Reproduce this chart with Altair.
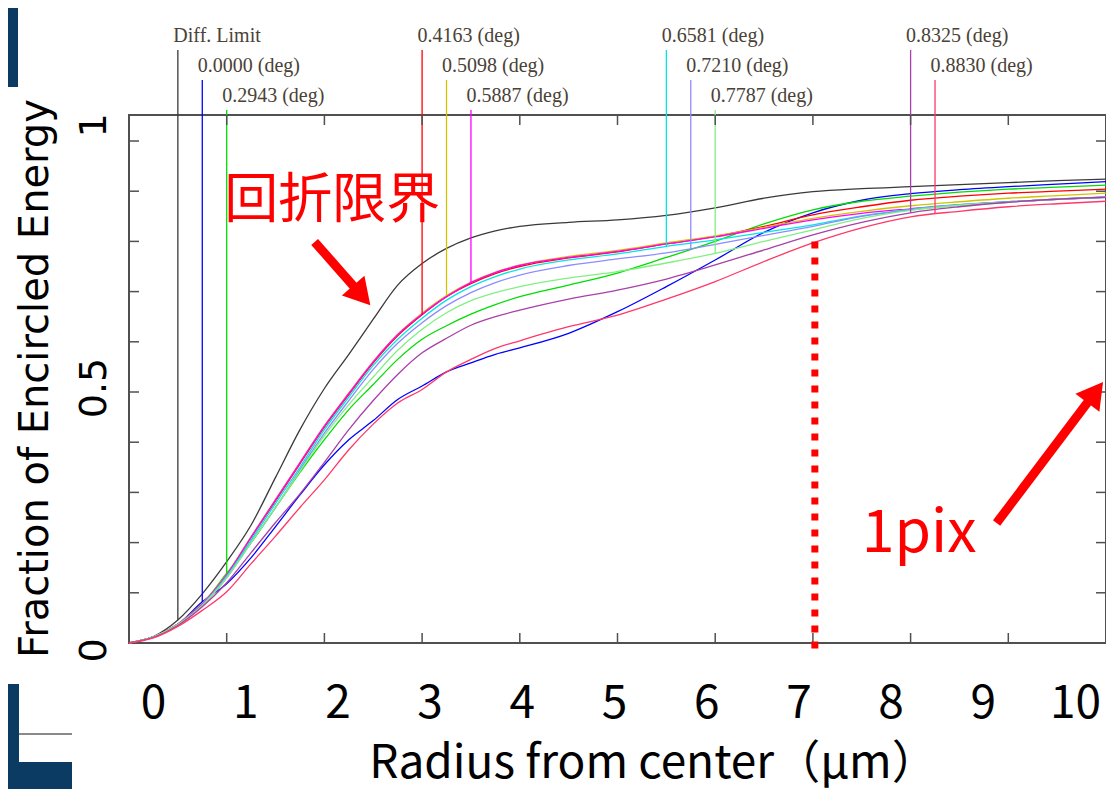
import math
import numpy as np
import pandas as pd
import altair as alt

# ---------------- layout ----------------
W, H = 977, 528          # plot area in px
YMAX = 1.0518            # top of the frame (fraction units)
XMAX = 10.0              # the frame holds 10 grid divisions

# ---------------- data ----------------
# radius along the plot's own grid (10 divisions across the frame)
R = [0, 0.25, 0.5, 0.75, 1.0, 1.25, 1.5, 1.75, 2.0, 2.25, 2.5, 2.75, 3.0, 3.25,
     3.5, 3.75, 4.0, 4.5, 5.0, 5.5, 6.0, 6.5, 7.0, 7.5, 8.0, 8.5, 9.0, 9.5, 10.0]

series_names = ["Diff. Limit", "0.0000 (deg)", "0.2943 (deg)", "0.4163 (deg)",
                "0.5098 (deg)", "0.5887 (deg)", "0.6581 (deg)", "0.7210 (deg)",
                "0.7787 (deg)", "0.8325 (deg)", "0.8830 (deg)"]
series_colors = ["#3a3a3a", "#0000ff", "#00dd00", "#ff0000", "#cfc400", "#ff00ff",
                 "#00e6e6", "#8c8cff", "#80f080", "#a840a8", "#ff3868"]

diff_limit = [0, 0.013, 0.046, 0.098, 0.162, 0.235, 0.330, 0.425, 0.507, 0.575, 0.645, 0.713,
              0.756, 0.786, 0.807, 0.821, 0.830, 0.838, 0.843, 0.852, 0.867, 0.886, 0.899,
              0.905, 0.909, 0.913, 0.917, 0.921, 0.924]
deg_0000 = [0, 0.012, 0.037, 0.082, 0.118, 0.170, 0.232, 0.295, 0.355, 0.405, 0.443, 0.485,
            0.512, 0.540, 0.558, 0.575, 0.588, 0.617, 0.660, 0.710, 0.763, 0.818, 0.857,
            0.882, 0.895, 0.903, 0.909, 0.914, 0.919]
deg_2943 = [0, 0.012, 0.037, 0.077, 0.139, 0.200, 0.270, 0.340, 0.405, 0.465, 0.515, 0.565,
            0.605, 0.632, 0.655, 0.674, 0.690, 0.713, 0.737, 0.768, 0.800, 0.835, 0.863,
            0.880, 0.890, 0.898, 0.904, 0.908, 0.912]
deg_4163 = [0, 0.012, 0.038, 0.078, 0.135, 0.210, 0.283, 0.357, 0.430, 0.495, 0.558, 0.612,
            0.654, 0.690, 0.716, 0.736, 0.750, 0.767, 0.779, 0.795, 0.810, 0.830, 0.853,
            0.869, 0.882, 0.890, 0.896, 0.900, 0.904]
deg_5098 = [0, 0.012, 0.038, 0.079, 0.137, 0.212, 0.286, 0.360, 0.433, 0.498, 0.561, 0.615,
            0.657, 0.692, 0.719, 0.739, 0.753, 0.770, 0.782, 0.797, 0.811, 0.828, 0.846,
            0.860, 0.871, 0.879, 0.886, 0.891, 0.896]
deg_5887 = [0, 0.012, 0.038, 0.078, 0.136, 0.211, 0.285, 0.359, 0.432, 0.497, 0.560, 0.614,
            0.655, 0.690, 0.718, 0.738, 0.752, 0.768, 0.780, 0.795, 0.809, 0.826, 0.843,
            0.856, 0.865, 0.873, 0.879, 0.884, 0.888]
deg_6581 = [0, 0.012, 0.037, 0.076, 0.133, 0.205, 0.278, 0.350, 0.425, 0.490, 0.553, 0.605,
            0.647, 0.683, 0.710, 0.730, 0.745, 0.763, 0.775, 0.790, 0.803, 0.818, 0.833,
            0.851, 0.864, 0.873, 0.879, 0.884, 0.888]
deg_7210 = [0, 0.012, 0.037, 0.075, 0.130, 0.200, 0.270, 0.345, 0.418, 0.483, 0.545, 0.597,
            0.638, 0.672, 0.698, 0.718, 0.733, 0.752, 0.765, 0.777, 0.794, 0.812, 0.830,
            0.850, 0.863, 0.872, 0.878, 0.884, 0.888]
deg_7787 = [0, 0.012, 0.037, 0.075, 0.130, 0.200, 0.270, 0.342, 0.413, 0.475, 0.530, 0.583,
            0.625, 0.658, 0.682, 0.698, 0.710, 0.727, 0.740, 0.757, 0.776, 0.800, 0.823,
            0.846, 0.862, 0.872, 0.878, 0.884, 0.888]
deg_8325 = [0, 0.011, 0.035, 0.072, 0.120, 0.180, 0.240, 0.297, 0.360, 0.425, 0.483, 0.535,
            0.578, 0.607, 0.633, 0.650, 0.663, 0.685, 0.703, 0.725, 0.753, 0.783, 0.813,
            0.838, 0.857, 0.869, 0.878, 0.884, 0.888]
deg_8830 = [0, 0.010, 0.033, 0.065, 0.102, 0.158, 0.213, 0.270, 0.325, 0.385, 0.436, 0.478,
            0.505, 0.540, 0.565, 0.587, 0.602, 0.630, 0.653, 0.685, 0.720, 0.760, 0.797,
            0.827, 0.849, 0.860, 0.869, 0.875, 0.880]
curves = [diff_limit, deg_0000, deg_2943, deg_4163, deg_5098, deg_5887, deg_6581,
          deg_7210, deg_7787, deg_8325, deg_8830]

# where each field's marker line stands, and the label row it belongs to
marker_r = [0.5, 0.75, 1.0, 3.0, 3.25, 3.5, 5.5, 5.75, 6.0, 8.0, 8.25]
label_row = [1, 2, 3, 1, 2, 3, 1, 2, 3, 1, 2]

# slide overlay: axis tick labels
x_tick_labels = list(range(11))
y_tick_labels = [0, 0.5, 1]
grid_r = list(range(11))
grid_f = [round(0.1 * i, 1) for i in range(11)]

# red annotations
pix_r = 7.02            # dotted "1pix" line
pix_top = 0.80
arrow_tail_r = [1.90, 8.88]
arrow_tail_f = [0.799, 0.239]
arrow_tip_r = [2.47, 9.97]
arrow_tip_f = [0.673, 0.520]
note_text = ["回折限界", "1pix"]
note_r = [0.975, 7.50]
note_f = [0.847, 0.181]
note_size = [54, 59]

# ---------------- tables ----------------
df_curves = pd.DataFrame([{"series": n, "r": r, "f": v}
                          for n, vals in zip(series_names, curves)
                          for r, v in zip(R, vals)])

ROW_TOP_PX = {1: -65, 2: -35, 3: -5}   # px from the frame top


def px_to_f(px_from_top):
    return YMAX * (H - px_from_top) / H


df_marks = pd.DataFrame({
    "series": series_names,
    "r": marker_r,
    "bottom": [float(np.interp(m, R, v)) for m, v in zip(marker_r, curves)],
    "top": [px_to_f(ROW_TOP_PX[k]) for k in label_row],
    "text_y": [px_to_f(ROW_TOP_PX[k] - 8) for k in label_row],
})

PXX = W / XMAX
PXY = H / YMAX
HEAD = 30.0
arows = []
for tr, tf, hr, hf in zip(arrow_tail_r, arrow_tail_f, arrow_tip_r, arrow_tip_f):
    dx = (hr - tr) * PXX
    dy = (hf - tf) * PXY
    L = math.hypot(dx, dy)
    ux, uy = dx / L, dy / L
    back = HEAD * 0.433
    cr = hr - ux * back / PXX
    cf = hf - uy * back / PXY
    ang = math.degrees(math.atan2(dx, dy)) % 360
    arows.append({"r": tr, "f": tf, "r2": cr, "f2": cf, "hr": cr, "hf": cf, "angle": ang})
df_arrows = pd.DataFrame(arows)

df_notes = pd.DataFrame({"r": note_r, "f": note_f, "text": note_text, "size": note_size})
df_dot = pd.DataFrame({"r": [pix_r], "f": [pix_top], "f2": [-0.014]})

XS = alt.Scale(domain=[0, XMAX], nice=False, zero=False)
YS = alt.Scale(domain=[0, YMAX], nice=False, zero=False)
CS = alt.Scale(domain=series_names, range=series_colors)

grid_x_axis = alt.Axis(orient="top", values=grid_r, grid=True, gridColor="#d9d9d9",
                       gridWidth=1.5, ticks=False, labels=False, domain=False, title=None)
grid_y_axis = alt.Axis(orient="right", values=grid_f, grid=True, gridColor="#d9d9d9",
                       gridWidth=1.5, ticks=False, labels=False, domain=False, title=None)

lines = alt.Chart(df_curves).mark_line(strokeWidth=1.3, interpolate="monotone").encode(
    x=alt.X("r:Q", scale=XS, axis=grid_x_axis),
    y=alt.Y("f:Q", scale=YS, axis=grid_y_axis),
    color=alt.Color("series:N", scale=CS, legend=None),
)

vlines = alt.Chart(df_marks).mark_rule(strokeWidth=1.3).encode(
    x=alt.X("r:Q", scale=XS, axis=None),
    y=alt.Y("bottom:Q", scale=YS, axis=None),
    y2="top:Q",
    color=alt.Color("series:N", scale=CS, legend=None),
)

vtext = alt.Chart(df_marks).mark_text(align="left", baseline="alphabetic", dx=-4.5,
                                      font="Liberation Serif", fontSize=20,
                                      color="#4a4236").encode(
    x=alt.X("r:Q", scale=XS, axis=None),
    y=alt.Y("text_y:Q", scale=YS, axis=None),
    text="series:N",
)

TICK = dict(color="#505050", strokeWidth=1.5)
df_xt = pd.DataFrame({"r": grid_r[1:-1]})
df_yt = pd.DataFrame({"f": grid_f[1:]})
tick_b = alt.Chart(df_xt).mark_rule(**TICK).encode(
    x=alt.X("r:Q", scale=XS, axis=None), y=alt.value(H), y2=alt.value(H - 10))
tick_t = alt.Chart(df_xt).mark_rule(**TICK).encode(
    x=alt.X("r:Q", scale=XS, axis=None), y=alt.value(0), y2=alt.value(10))
tick_l = alt.Chart(df_yt).mark_rule(**TICK).encode(
    y=alt.Y("f:Q", scale=YS, axis=None), x=alt.value(0), x2=alt.value(10))
tick_r = alt.Chart(df_yt).mark_rule(**TICK).encode(
    y=alt.Y("f:Q", scale=YS, axis=None), x=alt.value(W), x2=alt.value(W - 10))

dotted = alt.Chart(df_dot).mark_rule(color="#ff0000", strokeWidth=7, strokeDash=[7, 9],
                                     strokeCap="butt").encode(
    x=alt.X("r:Q", scale=XS, axis=None),
    y=alt.Y("f:Q", scale=YS, axis=None),
    y2="f2:Q",
)

shafts = alt.Chart(df_arrows).mark_rule(color="#ff0000", strokeWidth=9).encode(
    x=alt.X("r:Q", scale=XS, axis=None), x2="r2:Q",
    y=alt.Y("f:Q", scale=YS, axis=None), y2="f2:Q",
)
heads = alt.Chart(df_arrows).mark_point(shape="triangle-up", filled=True, opacity=1,
                                        color="#ff0000", size=HEAD * HEAD).encode(
    x=alt.X("hr:Q", scale=XS, axis=None),
    y=alt.Y("hf:Q", scale=YS, axis=None),
    angle=alt.Angle("angle:Q", scale=None),
)

notes = alt.Chart(df_notes).mark_text(align="left", baseline="alphabetic",
                                      font="Noto Sans CJK JP", color="#ff0000").encode(
    x=alt.X("r:Q", scale=XS, axis=None),
    y=alt.Y("f:Q", scale=YS, axis=None),
    text="text:N",
    size=alt.Size("size:Q", scale=None),
)

# slide decoration (dark navy blocks at the left edge of the slide)
NAVY = "#0b3a62"
one = pd.DataFrame({"k": [0]})
deco_tl = alt.Chart(one).mark_rect(color=NAVY).encode(
    x=alt.value(-121), x2=alt.value(-111), y=alt.value(-107), y2=alt.value(-28))
deco_bl1 = alt.Chart(one).mark_rect(color=NAVY).encode(
    x=alt.value(-121), x2=alt.value(-110), y=alt.value(569), y2=alt.value(674))
deco_bl2 = alt.Chart(one).mark_rect(color=NAVY).encode(
    x=alt.value(-121), x2=alt.value(-57), y=alt.value(647), y2=alt.value(674))
deco_line = alt.Chart(one).mark_rule(color="#8a8a8a", strokeWidth=2).encode(
    x=alt.value(-110), x2=alt.value(-57), y=alt.value(619), y2=alt.value(619))

main = alt.layer(lines, vlines, vtext, tick_b, tick_t, tick_l, tick_r, dotted,
                 shafts, heads, notes, deco_tl, deco_bl1, deco_bl2, deco_line)

xlab = alt.Chart(pd.DataFrame({"um": x_tick_labels})).mark_tick(opacity=0).encode(
    x=alt.X("um:Q", scale=alt.Scale(domain=[0, 10], range=[24, 946]),
            axis=alt.Axis(orient="bottom", values=x_tick_labels, format="d",
                          labelFont="Noto Sans CJK JP", labelFontSize=46,
                          labelColor="#000000", labelBaseline="alphabetic",
                          labelPadding=74, labelFlush=False, labelOverlap=False,
                          labelBound=False, ticks=False, tickSize=0, domain=False,
                          grid=False,
                          title="Radius from center（μm）",
                          titleFont="Noto Sans CJK JP", titleFontSize=46,
                          titleFontWeight="normal", titleColor="#000000",
                          titleX=524, titleY=134, titleAlign="center",
                          titleBaseline="alphabetic")),
)

ylab = alt.Chart(pd.DataFrame({"v": y_tick_labels})).mark_tick(opacity=0).encode(
    y=alt.Y("v:Q", scale=alt.Scale(domain=[0, 1], range=[H + 7, 10]),
            axis=alt.Axis(orient="left", values=y_tick_labels, format="~g",
                          labelFont="DejaVu Sans", labelFontSize=38,
                          labelColor="#000000", labelAngle=270, labelAlign="center",
                          labelBaseline="alphabetic", labelPadding=24,
                          labelFlush=False, labelOverlap=False, labelBound=False,
                          ticks=False, tickSize=0, domain=False, grid=False,
                          title="Fraction of Encircled Energy",
                          titleFont="DejaVu Sans", titleFontSize=40,
                          titleFontWeight="normal", titleColor="#000000",
                          titleAngle=270, titleX=-82, titleY=263,
                          titleAlign="center", titleBaseline="alphabetic")),
)

chart = alt.layer(main, xlab, ylab).resolve_scale(
    x="independent", y="independent"
).properties(
    width=W, height=H,
    autosize=alt.AutoSizeParams(type="none"),
    padding={"left": 121, "top": 107, "right": 0, "bottom": 146},
).configure_view(stroke="#505050", strokeWidth=2)

chart.save("out.html", embed_options={"renderer": "svg", "actions": False})
